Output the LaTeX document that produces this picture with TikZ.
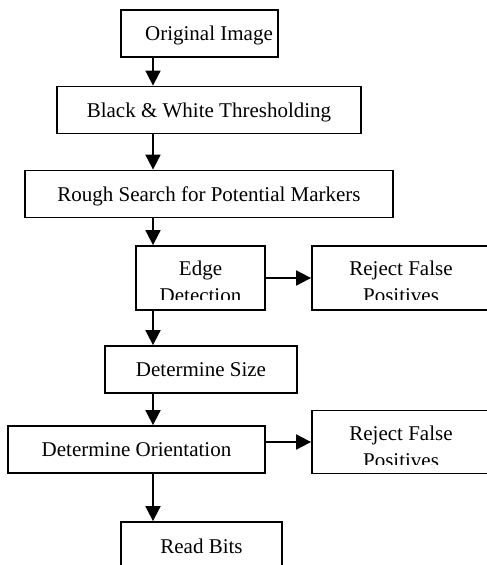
\documentclass[tikz,border=0pt]{standalone}
\usepackage{fontspec}
\setmainfont{Liberation Serif}
\usetikzlibrary{arrows.meta}

\begin{document}
\begin{tikzpicture}[x=1pt, y=-1pt,
    font=\fontsize{21}{25}\selectfont,
    box/.style={draw, line width=1.8pt, inner sep=0pt, minimum height=47pt,
      text height=14pt, text depth=0pt},
    twoline/.style={align=center, inner sep=0pt, anchor=north,
      font=\fontsize{21}{27}\selectfont},
    flow/.style={line width=1.8pt, -{Triangle[width=15pt,length=15pt]}}]
    \useasboundingbox (0,0) rectangle (487,565);
    \clip (0,0) rectangle (487,565);
    \coordinate (spine) at (153,0);
    % main chain
    \node[box, minimum width=157pt] (orig) at (199.5,33.5) {\hspace*{19pt}Original Image};
    \node[box, minimum width=304pt] (bw) at (209,110) {Black \& White Thresholding};
    \node[box, minimum width=368pt] (rough) at (209,194) {Rough Search for Potential Markers};
    \node[box, minimum width=129pt, minimum height=64pt] (edge) at (200.5,278) {};
    \node[box, minimum width=192pt] (size) at (201,369.5) {Determine Size};
    \node[box, minimum width=257pt] (orient) at (136.5,449.5) {Determine Orientation};
    \node[box, minimum width=161pt, minimum height=48pt] (read) at (201.5,546) {Read Bits};
    % side boxes
    \node[box, minimum width=178pt, minimum height=64pt] (rej1) at (401,278) {};
    \node[box, minimum width=178pt, minimum height=63pt] (rej2) at (401,442) {};
    % two-line texts, cut off near the bottom edge
    \begin{scope}
      \clip (edge.north west) rectangle ([yshift=11pt]edge.south east);
      \node[twoline] (edgetxt) at ([yshift=-16pt]edge.north) {Edge\\Detection};
    \end{scope}
    \begin{scope}
      \clip (rej1.north west) rectangle ([yshift=11pt]rej1.south east);
      \node[twoline] (rej1txt) at ([yshift=-16pt]rej1.north) {Reject False\\Positives};
    \end{scope}
    \begin{scope}
      \clip (rej2.north west) rectangle ([yshift=10pt]rej2.south east);
      \node[twoline] (rej2txt) at ([yshift=-16pt]rej2.north) {Reject False\\Positives};
    \end{scope}
    % vertical arrows
    \draw[flow] (orig.south -| spine) -- (bw.north -| spine);
    \draw[flow] (bw.south -| spine) -- (rough.north -| spine);
    \draw[flow] (rough.south -| spine) -- (edge.north -| spine);
    \draw[flow] (edge.south -| spine) -- (size.north -| spine);
    \draw[flow] (size.south -| spine) -- (orient.north -| spine);
    \draw[flow] (orient.south -| spine) -- (read.north -| spine);
    % horizontal arrows
    \draw[flow] (edge.east) -- (rej1.west);
    \draw[flow] (orient.east |- rej2.west) -- (rej2.west);
\end{tikzpicture}
\end{document}
